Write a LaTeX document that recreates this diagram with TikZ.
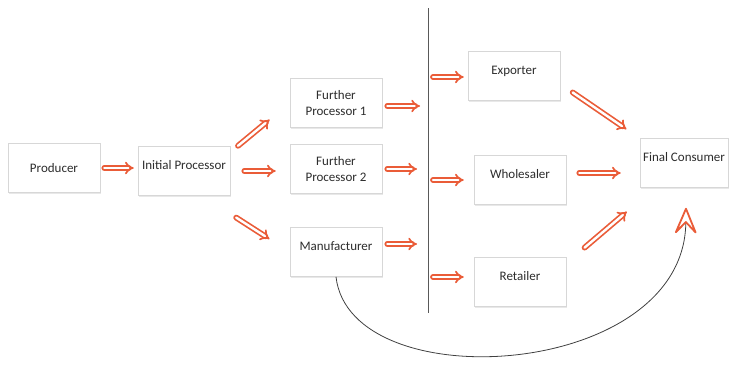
\documentclass[tikz,border=0pt]{standalone}
\usepackage{fontspec}
\setmainfont{Carlito}
\usetikzlibrary{arrows.meta,shadows}

\definecolor{arrowc}{RGB}{234,92,56}
\definecolor{boxline}{RGB}{215,215,215}
\definecolor{textc}{RGB}{45,45,45}

\tikzset{
  stage/.style={draw=boxline, fill=white, line width=0.6pt, minimum width=92pt, minimum height=49pt,
    align=center, font=\fontsize{13}{16}\selectfont, text=textc, inner sep=1pt,
    drop shadow={opacity=0.18, shadow xshift=1.2pt, shadow yshift=-1.6pt}},
  upper/.style={text height=9pt, text depth=13pt},
  flow/.style={draw=arrowc, double=white, double distance=2.4pt, line width=1.7pt, line cap=round,
    -{Implies[]}},
}

\begin{document}
\begin{tikzpicture}[x=1pt, y=-1pt]
    \useasboundingbox (0,0) rectangle (731,370);

    % Boxes, left part
    \node[stage] (prod) at (54,168) {Producer};
    \node[stage, upper] (init) at (184,171) {Initial Processor};
    \node[stage] (fp1) at (336,103) {Further\\Processor 1};
    \node[stage] (fp2) at (336,169) {Further\\Processor 2};
    \node[stage, upper] (man) at (336,252) {Manufacturer};

    % Divider
    \coordinate (divtop) at (428,8);
    \coordinate (divbot) at (428,313);
    \draw[line width=1pt, black!65] (divtop) -- (divbot);

    % Boxes, right part
    \node[stage, upper] (exp) at (514,76) {Exporter};
    \node[stage, upper] (whole) at (520,180) {Wholesaler};
    \node[stage, upper] (ret) at (520,282) {Retailer};
    \node[stage, upper, minimum width=88pt] (fc) at (684,163) {Final Consumer};

    % Arrows into the processors
    \draw[flow, shorten <=4pt, shorten >=4pt] (prod.east) -- (prod.east -| init.west);
    \draw[flow, shorten <=10pt, shorten >=26pt] ([yshift=-6pt]init.north east) -- (fp1.west);
    \draw[flow, shorten <=14pt, shorten >=14pt] (init.east) -- (init.east -| fp2.west);
    \draw[flow, shorten <=7pt, shorten >=24pt] ([yshift=-18pt]init.south east) -- (man.west);

    % Arrows up to the divider
    \draw[flow, shorten <=5pt, shorten >=8pt] ([yshift=-3pt]fp1.east) -- ([yshift=-3pt]fp1.east -| divtop);
    \draw[flow, shorten <=5pt, shorten >=11pt] (fp2.east) -- (fp2.east -| divtop);
    \draw[flow, shorten <=5pt, shorten >=11pt] ([yshift=8pt]man.east) -- ([yshift=8pt]man.east -| divtop);

    % Arrows from the divider
    \draw[flow, shorten <=5pt, shorten >=4pt] ([yshift=-1pt]exp.west -| divtop) -- ([yshift=-1pt]exp.west);
    \draw[flow, shorten <=5pt, shorten >=10pt] (whole.west -| divtop) -- (whole.west);
    \draw[flow, shorten <=5pt, shorten >=10pt] ([yshift=5pt]ret.west -| divtop) -- ([yshift=5pt]ret.west);

    % Arrows to the final consumer
    \draw[flow, shorten <=15pt, shorten >=16pt] ([yshift=-8pt]exp.east) -- (fc.north west);
    \draw[flow, shorten <=13pt, shorten >=19pt] ([yshift=7pt]whole.east) -- ([yshift=7pt]whole.east -| fc.west);
    \draw[flow, shorten <=24pt, shorten >=9pt] ([yshift=-6pt]ret.north east) -- ([xshift=-6pt,yshift=-18pt]fc.south west);

    % Direct route from the manufacturer
    \draw[line width=0.8pt, black!75, -{Stealth[length=30pt, width=25pt, inset=13pt, round, line width=1.8pt, color=arrowc, fill=white]}]
        (man.south) .. controls (350,400) and (684,380) .. ([xshift=2pt,yshift=-20pt]fc.south);
\end{tikzpicture}
\end{document}
